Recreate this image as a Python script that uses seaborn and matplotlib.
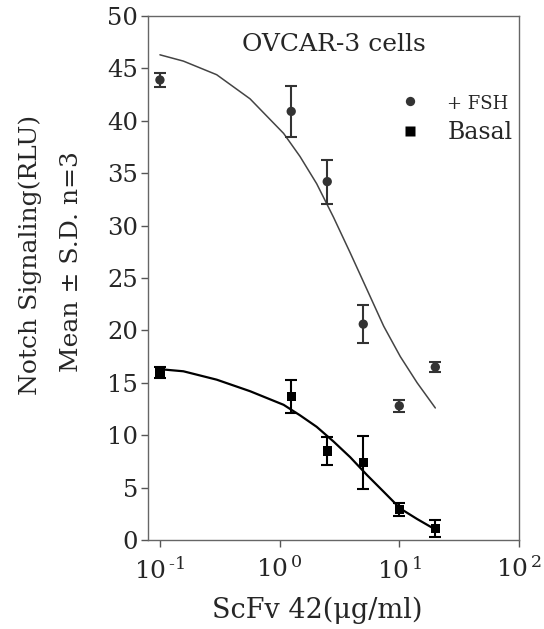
import numpy as np
import pandas as pd
import matplotlib
matplotlib.use("Agg")
import matplotlib.pyplot as plt
from matplotlib.ticker import FixedLocator, FixedFormatter, NullLocator
import seaborn as sns

### Dados
doses = [0.1, 1.25, 2.5, 5.0, 10.0, 20.0]
fsh_media = [43.9, 40.9, 34.2, 20.6, 12.8, 16.5]
fsh_dp = [0.7, 2.4, 2.1, 1.8, 0.6, 0.5]
basal_media = [16.0, 13.7, 8.5, 7.4, 2.9, 1.1]
basal_dp = [0.5, 1.6, 1.3, 2.5, 0.6, 0.8]

# curvas ajustadas (valores lidos ao longo das linhas)
curva_x = [0.1, 0.157, 0.298, 0.566, 1.08, 1.48, 2.04, 2.82, 3.89, 5.37, 7.41, 10.2, 14.1, 20.0]
curva_fsh = [46.3, 45.7, 44.4, 42.1, 38.8, 36.6, 34.0, 30.8, 27.4, 23.9, 20.4, 17.5, 15.0, 12.6]
curva_basal = [16.3, 16.1, 15.3, 14.2, 12.9, 11.9, 10.8, 9.4, 7.9, 6.2, 4.6, 3.0, 2.0, 1.0]

grupos = ["+ FSH", "Basal"]
cores = {"+ FSH": "#333333", "Basal": "#000000"}
marcadores = {"+ FSH": "o", "Basal": "s"}
xticks = [0.1, 1, 10, 100]
xticklabels = [r"$\mathregular{10^{\,\text{-}1}}$", r"$\mathregular{10^{\,0}}$",
               r"$\mathregular{10^{\,1}}$", r"$\mathregular{10^{\,2}}$"]

pontos = pd.DataFrame({
    "dose": doses * 2,
    "sinal": fsh_media + basal_media,
    "dp": fsh_dp + basal_dp,
    "grupo": [grupos[0]] * len(doses) + [grupos[1]] * len(doses),
})
curvas = pd.DataFrame({
    "dose": curva_x * 2,
    "sinal": curva_fsh + curva_basal,
    "grupo": [grupos[0]] * len(curva_x) + [grupos[1]] * len(curva_x),
})

sns.set_style("white")
plt.rcParams["font.family"] = ["DejaVu Serif"]
plt.rcParams["mathtext.fontset"] = "dejavuserif"

fig = plt.figure(figsize=(5.44, 6.29), dpi=100)
ax = fig.add_axes([0.272, 0.1415, 0.682, 0.833])

# curvas
sns.lineplot(data=curvas[curvas["grupo"] == "+ FSH"], x="dose", y="sinal", ax=ax,
             color="#444444", linewidth=1.1, legend=False)
sns.lineplot(data=curvas[curvas["grupo"] == "Basal"], x="dose", y="sinal", ax=ax,
             color="#000000", linewidth=1.6, legend=False)

# barras de erro
for g in grupos:
    sub = pontos[pontos["grupo"] == g]
    ax.errorbar(sub["dose"], sub["sinal"], yerr=sub["dp"], fmt="none",
                ecolor=cores[g], elinewidth=1.5, capsize=4, capthick=1.5, zorder=3)

sns.scatterplot(data=pontos, x="dose", y="sinal", hue="grupo", style="grupo",
                palette=cores, markers=marcadores, s=45, edgecolor="none",
                ax=ax, zorder=4)

ax.set_xscale("log")
ax.set_xlim(10 ** -1.1, 100)
ax.set_ylim(0, 50)
ax.set_yticks(range(0, 51, 5))
ax.xaxis.set_major_locator(FixedLocator(xticks))
ax.xaxis.set_major_formatter(FixedFormatter(xticklabels))
ax.xaxis.set_minor_locator(NullLocator())
ax.tick_params(axis="both", which="major", direction="out", length=5, width=1,
               color="#555555", labelsize=17.5, left=True, bottom=True, pad=2)
ax.tick_params(axis="x", labelsize=18, pad=7)
for sp in ax.spines.values():
    sp.set_color("#666666")
    sp.set_linewidth(1.0)

ax.set_xlabel("")
ax.set_ylabel("")
fig.text(317 / 544, 1 - 610 / 629, "ScFv 42(μg/ml)", ha="center", va="center",
         fontsize=19.5)
fig.text(30 / 544, 1 - 255 / 629, "Notch Signaling(RLU)", rotation=90,
         ha="center", va="center", fontsize=18)
fig.text(72 / 544, 1 - 262 / 629, "Mean ± S.D. n=3", rotation=90,
         ha="center", va="center", fontsize=18)
ax.text(0.5, 0.945, "OVCAR-3 cells", transform=ax.transAxes, ha="center", va="center",
        fontsize=18)

leg = ax.legend(loc="upper right", bbox_to_anchor=(1.04, 0.895), frameon=False,
                fontsize=17, handletextpad=0.6, labelspacing=0.35, markerscale=1.0)
leg.get_texts()[0].set_fontsize(13)

fig.savefig("out.png", dpi=100)
